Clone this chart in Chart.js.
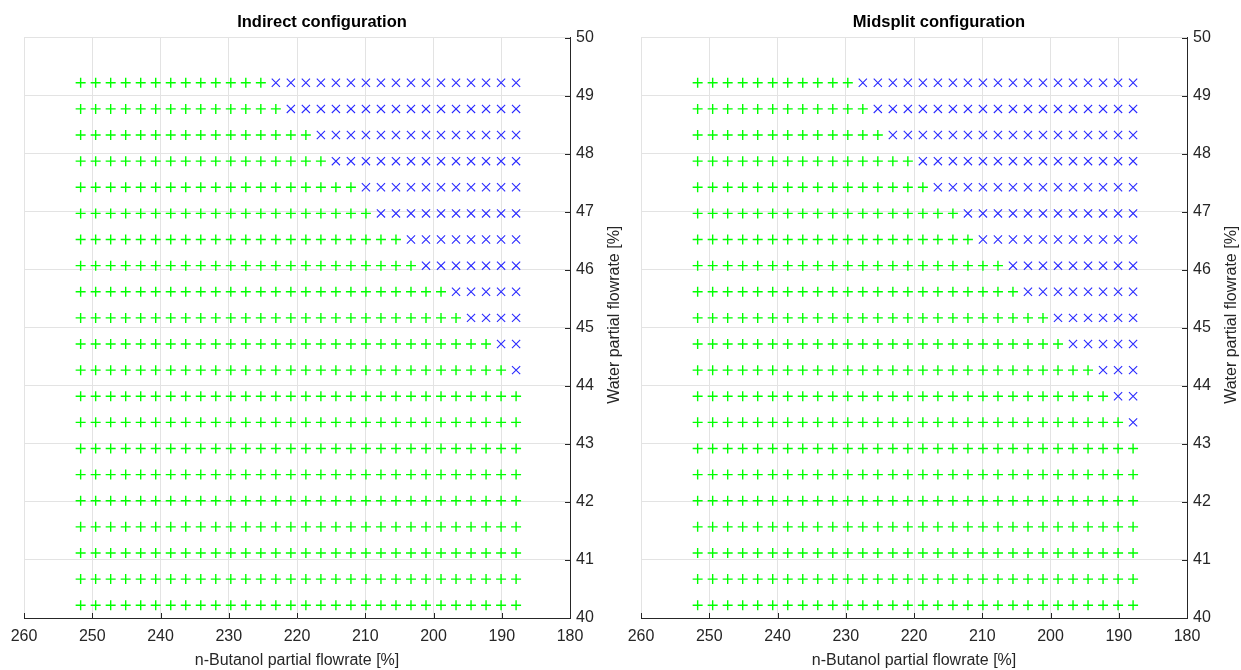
<!DOCTYPE html>
<html>
<head>
<meta charset="utf-8">
<script src="https://cdn.jsdelivr.net/npm/chart.js@4/dist/chart.umd.min.js"></script>
<style>
  body { margin: 0; background: #fff; }
  #wrap { position: relative; width: 1241px; height: 670px; overflow: hidden; }
  #c_indirect { position: absolute; left: 0; top: 0; }
  #c_midsplit { position: absolute; left: 617px; top: 0; }
</style>
</head>
<body>
<div id="wrap">
  <canvas id="c_indirect"></canvas>
  <canvas id="c_midsplit"></canvas>
</div>
<script>
// n-Butanol partial flowrate [%] of each column (left to right)
var butanol = [251.7, 249.5, 247.3, 245.1, 242.9, 240.7, 238.5, 236.3, 234.1, 231.9,
               229.7, 227.5, 225.3, 223.1, 220.9, 218.7, 216.5, 214.3, 212.1, 209.9,
               207.7, 205.5, 203.3, 201.1, 198.9, 196.7, 194.5, 192.3, 190.1, 187.9];
// Water partial flowrate [%] of each row (top to bottom)
var water = [49.22, 48.77, 48.32, 47.87, 47.42, 46.97, 46.52, 46.07, 45.62, 45.17, 44.72,
             44.27, 43.82, 43.37, 42.92, 42.47, 42.02, 41.57, 41.12, 40.67, 40.22];
// number of green "+" points per row (from the left), rest are blue "x"
var greenIndirect = [13, 14, 16, 17, 19, 20, 22, 23, 25, 26, 28, 29, 30, 30, 30, 30, 30, 30, 30, 30, 30];
var greenMidsplit = [11, 12, 13, 15, 16, 18, 19, 21, 22, 24, 25, 27, 28, 29, 30, 30, 30, 30, 30, 30, 30];

var xTicks = [260, 250, 240, 230, 220, 210, 200, 190, 180];
var yTicks = [40, 41, 42, 43, 44, 45, 46, 47, 48, 49, 50];

var FONT = "'Liberation Sans', Arial, Helvetica, sans-serif";
var axisColor = '#262626';
var gridColor = '#e3e3e3';

function splitPoints(greenCounts){
    var ok = [], bad = [];
    for (var i = 0; i < water.length; i++){
        for (var j = 0; j < butanol.length; j++){
            var p = {x: butanol[j], y: water[i]};
            if (j < greenCounts[i]) ok.push(p); else bad.push(p);
        }
    }
    return {ok: ok, bad: bad};
}

// inward tick marks + bottom-to-top y title (Chart.js turns right titles the other way)
var extrasPlugin = {
    id: 'extras',
    afterDraw: function(chart){
        var ctx = chart.ctx;
        var xs = chart.scales.x, ys = chart.scales.y, a = chart.chartArea;
        ctx.save();
        ctx.strokeStyle = axisColor;
        ctx.lineWidth = 1;
        ctx.beginPath();
        xTicks.forEach(function(v){
            var px = Math.round(xs.getPixelForValue(v)) + 0.5;
            ctx.moveTo(px, a.bottom);
            ctx.lineTo(px, a.bottom - 5);
        });
        yTicks.forEach(function(v){
            var py = Math.round(ys.getPixelForValue(v)) + 0.5;
            ctx.moveTo(a.right, py);
            ctx.lineTo(a.right - 5, py);
        });
        ctx.stroke();

        ctx.translate(a.right + 45, (a.top + a.bottom) / 2 - 13);
        ctx.rotate(-Math.PI / 2);
        ctx.fillStyle = axisColor;
        ctx.font = '16px ' + FONT;
        ctx.textAlign = 'center';
        ctx.textBaseline = 'middle';
        ctx.fillText('Water partial flowrate [%]', 0, 0);
        ctx.restore();
    }
};

function makeChart(id, title, greenCounts, width){
    var cv = document.getElementById(id);
    cv.width = width;
    cv.height = 670;
    var pts = splitPoints(greenCounts);

    return new Chart(cv.getContext('2d'), {
        type: 'scatter',
        data: {
            datasets: [{
                label: 'feasible',
                data: pts.ok,
                pointStyle: 'cross',
                pointRadius: 5,
                borderColor: '#00ff00',
                backgroundColor: '#00ff00',
                pointBorderWidth: 1.4
            }, {
                label: 'infeasible',
                data: pts.bad,
                pointStyle: 'crossRot',
                pointRadius: 5.8,
                borderColor: '#2a2aff',
                backgroundColor: '#2a2aff',
                pointBorderWidth: 1.1
            }]
        },
        options: {
            responsive: false,
            animation: false,
            events: [],
            layout: { padding: { left: 24, right: width - 570 - 50, top: 0, bottom: 0 } },
            plugins: {
                legend: { display: false },
                tooltip: { enabled: false },
                title: {
                    display: true,
                    text: title,
                    color: '#000',
                    font: { family: FONT, size: 16.5, weight: 'bold' },
                    padding: { top: 13, bottom: 4.7 }
                }
            },
            scales: {
                x: {
                    type: 'linear',
                    reverse: true,
                    min: 180, max: 260,
                    afterBuildTicks: function(s){ s.ticks = xTicks.map(function(v){ return {value: v}; }); },
                    afterFit: function(s){ s.height = 52; },
                    ticks: { color: axisColor, font: { family: FONT, size: 16 }, padding: 9, maxRotation: 0 },
                    grid: { color: gridColor, drawTicks: false },
                    border: { color: axisColor, width: 1 },
                    title: {
                        display: true,
                        text: 'n-Butanol partial flowrate [%]',
                        color: axisColor,
                        font: { family: FONT, size: 16 },
                        padding: { top: 0, bottom: 0 }
                    }
                },
                y: {
                    type: 'linear',
                    position: 'right',
                    min: 40, max: 50,
                    afterBuildTicks: function(s){ s.ticks = yTicks.map(function(v){ return {value: v}; }); },
                    afterFit: function(s){ s.width = 50; },
                    ticks: { color: axisColor, font: { family: FONT, size: 16 }, padding: 6 },
                    grid: { color: gridColor, drawTicks: false },
                    border: { color: axisColor, width: 1 }
                }
            }
        },
        plugins: [extrasPlugin]
    });
}

makeChart('c_indirect', 'Indirect configuration', greenIndirect, 630);
makeChart('c_midsplit', 'Midsplit configuration', greenMidsplit, 624);
</script>
</body>
</html>
